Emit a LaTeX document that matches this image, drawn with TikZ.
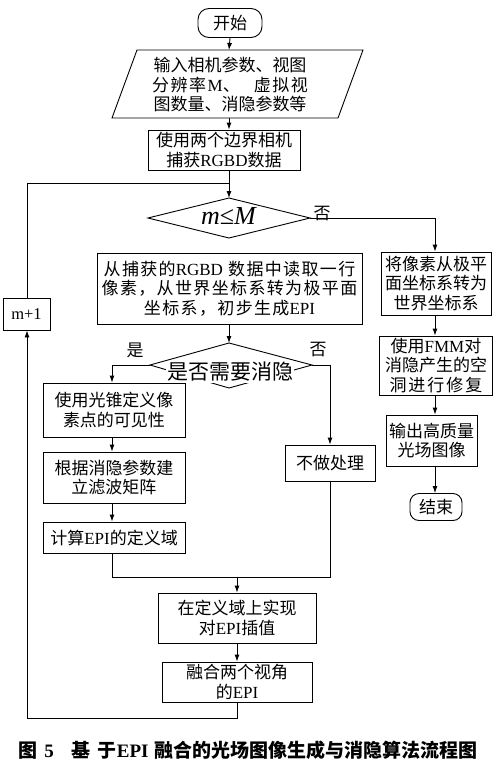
\documentclass[tikz,border=0pt]{standalone}
\usepackage{fontspec}
\setmainfont{Noto Sans CJK SC}
\newfontfamily\latinfont{Liberation Serif}
\newfontfamily\cjkwide[LetterSpace=8]{Noto Sans CJK SC}
\newcommand\lat[1]{{\latinfont #1}}
\usetikzlibrary{arrows.meta}
\tikzset{
  box/.style={draw, line width=0.9pt, align=center, inner sep=0pt, font=\fontsize{17}{19.5}\selectfont},
  term/.style={box, rounded corners=11pt},
  lbl/.style={inner sep=0pt, font=\fontsize{17}{19.5}\selectfont},
  conn/.style={line width=0.9pt},
  arr/.style={conn, -{Latex[length=7pt,width=5pt]}},
  shp/.style={line width=0.9pt}
}
\begin{document}
\begin{tikzpicture}[x=1pt,y=-1pt]
\useasboundingbox[fill=white] (0,0) rectangle (501,764);
% start
\node[term, minimum width=64pt, minimum height=29pt] (start) at (230,23) {开始};
% input parallelogram
\coordinate (pTL) at (137,50); \coordinate (pTR) at (363,50);
\coordinate (pBR) at (338,118); \coordinate (pBL) at (112,118);
\draw[shp] (pTL) -- (pTR) -- (pBR) -- (pBL) -- cycle;
\node[lbl, align=center] (in) at (230,85) {输入相机参数、视图\\分\hspace{1.5pt}辨\hspace{1.5pt}率\hspace{1.5pt}\lat{M}、\hspace{14pt}虚\hspace{1.5pt}拟\hspace{1.5pt}视\\图数量、消隐参数等};
\coordinate (inTop) at (229,50); \coordinate (inBot) at (229,118);
% RGBD box
\node[box, minimum width=152pt, minimum height=40pt] (cap) at (224,150) {使用两个边界相机\\捕获\lat{RGBD}数据};
% diamond 1
\coordinate (d1L) at (148,218); \coordinate (d1T) at (229,198);
\coordinate (d1R) at (310,218); \coordinate (d1B) at (229,238);
\draw[shp] (d1L) -- (d1T) -- (d1R) -- (d1B) -- cycle;
\node[inner sep=0pt, font=\fontsize{26}{28}\selectfont\latinfont] (d1) at (229,216) {\textit{m}≤\textit{M}};
\node[lbl] (no1) at (322,214) {否};
% middle box
\node[box, minimum width=265pt, minimum height=71pt, font=\fontsize{17}{19.5}\selectfont\cjkwide] (read) at (229.5,288.5) {从捕获的\lat{RGBD} 数据中读取一行\\像素，从世界坐标系转为极平面\\坐标系，初步生成\lat{EPI}};
% diamond 2
\coordinate (d2L) at (150,365); \coordinate (d2T) at (229,343);
\coordinate (d2R) at (312,365); \coordinate (d2B) at (229,388);
\draw[shp] (d2L) -- (d2T) -- (d2R) -- (d2B) -- cycle;
\node[inner sep=1pt, fill=white, font=\fontsize{21}{23}\selectfont] (d2) at (230,372) {是否需要消隐};
\node[lbl] (yes2) at (135,350) {是};
\node[lbl] (no2) at (318,350) {否};
% left branch
\node[box, minimum width=142pt, minimum height=54pt] (A) at (114,410) {使用光锥定义像\\素点的可见性};
\node[box, minimum width=142pt, minimum height=51pt] (B) at (114,477.5) {根据消隐参数建\\立滤波矩阵};
\node[box, minimum width=142pt, minimum height=31pt] (C) at (114,537.5) {计算\lat{EPI}的定义域};
% right branch
\node[box, minimum width=90pt, minimum height=36pt] (D) at (330,463) {不做处理};
% merge
\node[box, minimum width=158pt, minimum height=50pt] (E) at (237,618) {在定义域上实现\\对\lat{EPI}插值};
\node[box, minimum width=150pt, minimum height=40pt] (F) at (237,682) {融合两个视角\\的\lat{EPI}};
% m+1
\node[box, minimum width=47pt, minimum height=32pt, font=\fontsize{16.5}{18}\selectfont\latinfont] (inc) at (26.5,314) {m+1};
% right column
\node[box, minimum width=110pt, minimum height=63pt] (R1) at (436,283.5) {将像素从极平\\面坐标系转为\\世界坐标系};
\node[box, minimum width=113pt, minimum height=59pt] (R2) at (436,365.5) {使用\lat{FMM}对\\消隐产生的空\\洞\hspace{2pt}进\hspace{2pt}行\hspace{2pt}修\hspace{2pt}复};
\node[box, minimum width=91pt, minimum height=51pt] (R3) at (431.5,440.5) {输出高质量\\光场图像};
\node[term, minimum width=52pt, minimum height=27pt, rounded corners=9pt] (end) at (436,507) {结束};
% caption
\node[inner sep=0pt, font=\fontsize{19}{21}\selectfont\bfseries] (caption) at (248,750) {图\hspace{7pt}{\latinfont\bfseries 5}\hspace{18pt}基\hspace{7pt}于{\latinfont\bfseries EPI}\hspace{6pt}融合的光场图像生成与消隐算法流程图};
% connectors
\draw[arr] (start.south) -- (inTop);
\draw[arr] (inBot) -- (cap.north -| inBot);
\coordinate (loopJ) at (229,183);
\draw[arr] (cap.south -| loopJ) -- (d1T);
\coordinate (r1c) at (435,218);
\draw[arr] (d1R) -- (r1c) -- (R1.north -| r1c);
\draw[arr] (read.south -| d2T) -- (d2T);
\coordinate (lbr) at (112,365);
\draw[arr] (d2L) -- (lbr) -- (A.north -| lbr);
\draw[arr] (A.south -| lbr) -- (B.north -| lbr);
\draw[arr] (B.south -| lbr) -- (C.north -| lbr);
\coordinate (rbr) at (330,365);
\draw[arr] (d2R) -- (rbr) -- (D.north);
\coordinate (mL) at (112,577); \coordinate (mR) at (330,577); \coordinate (mC) at (237,577);
\draw[conn] (C.south -| mL) -- (mL) -- (mR) -- (D.south);
\draw[arr] (mC) -- (E.north);
\draw[arr] (E.south) -- (F.north);
\coordinate (bR) at (237,718); \coordinate (bL) at (27,718); \coordinate (tL) at (27,183);
\draw[arr] (F.south) -- (bR) -- (bL) -- (inc.south -| bL);
\draw[conn] (inc.north -| tL) -- (tL) -- (loopJ);
\draw[arr] (R1.south -| r1c) -- (R2.north -| r1c);
\draw[arr] (R2.south -| r1c) -- (R3.north -| r1c);
\draw[arr] (R3.south -| r1c) -- (end.north -| r1c);
\end{tikzpicture}
\end{document}
